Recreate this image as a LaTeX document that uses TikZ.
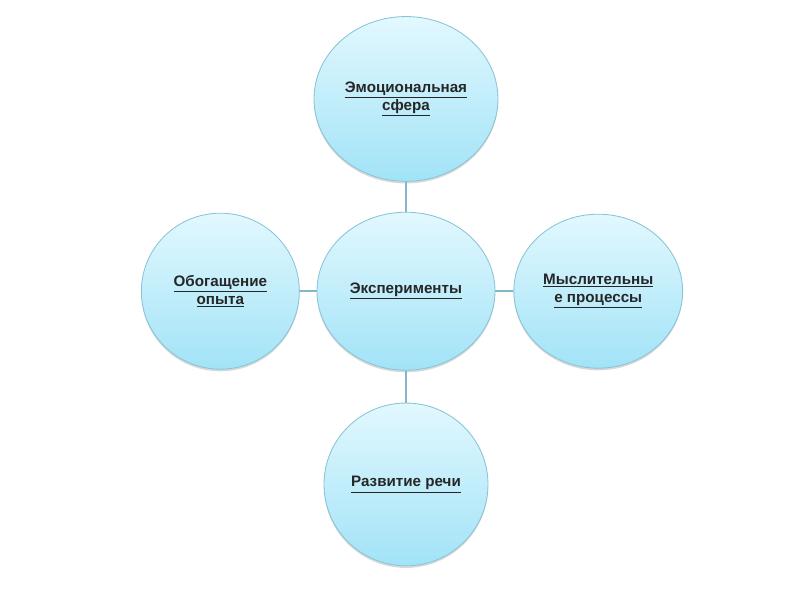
\documentclass[tikz,border=0pt]{standalone}
\usepackage{fontspec}
\usepackage{xcolor}
\usepackage{tikz}
\usetikzlibrary{positioning, shapes.geometric, shadows}
\newfontfamily\bubblefont{Liberation Sans}
\definecolor{bubbleTop}{HTML}{E2F8FE}
\definecolor{bubbleBottom}{HTML}{A2E3F7}
\definecolor{bubbleLine}{HTML}{88C4D6}
\definecolor{linkLine}{HTML}{7FB8CA}
\newcommand{\ul}[1]{\underline{#1}}

\begin{document}
\begin{tikzpicture}[
  every node/.style={font=\bubblefont\bfseries\fontsize{10.8}{13}\selectfont},
  bubble/.style={ellipse, draw=bubbleLine, line width=0.6pt, inner sep=0pt,
                 top color=bubbleTop, bottom color=bubbleBottom,
                 text=black!85, align=center,
                 drop shadow={shadow xshift=0pt, shadow yshift=-1.5pt,
                              opacity=0.25, fill=black!60}},
  link/.style={draw=linkLine, line width=1.4pt},
]
  \useasboundingbox (0,0) rectangle (20,15);

  % Central bubble
  \node[bubble, minimum width=4.45cm, minimum height=3.95cm] (exp) at (10.15,7.72)
    {\ul{Эксперименты}};

  % Satellite bubbles
  \node[bubble, minimum width=4.6cm, minimum height=4.12cm, above=0.75cm of exp] (emo)
    {\ul{Эмоциональная}\\\ul{сфера}};
  \node[bubble, minimum width=3.95cm, minimum height=3.9cm, left=0.42cm of exp] (opyt)
    {\ul{Обогащение}\\\ul{опыта}};
  \node[bubble, minimum width=4.22cm, minimum height=3.85cm, right=0.45cm of exp] (mysl)
    {\ul{Мыслительны}\\\ul{е процессы}};
  \node[bubble, minimum width=4.1cm, minimum height=4.07cm, below=0.8cm of exp] (rech)
    {\ul{Развитие речи}};

  % Connectors
  \foreach \n in {emo, opyt, mysl, rech}
    \draw[link] (exp) -- (\n);
\end{tikzpicture}
\end{document}
